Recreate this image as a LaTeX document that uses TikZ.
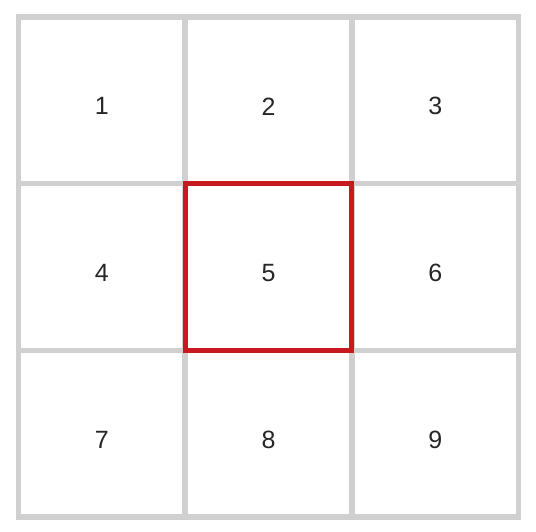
\documentclass[tikz,border=0pt]{standalone}
\usepackage{fontspec}
\setmainfont{Liberation Sans}
\usepackage{tikz}
\usetikzlibrary{positioning}
\definecolor{gridgray}{RGB}{208,208,208}
\definecolor{markred}{RGB}{200,24,32}
\tikzset{
	cell/.style={
		draw=gridgray,
		line width=5.5pt,
		minimum size=166.7pt,
		inner sep=0pt,
		outer sep=0pt
	},
	num/.style={
		font=\fontsize{25}{25}\selectfont,
		text=black!85,
		yshift=-6pt
	},
	mark box/.style={
		draw=markred,
		line width=5pt
	}
}
\begin{document}
\begin{tikzpicture}[x=1pt,y=-1pt]
	\useasboundingbox (0,0) rectangle (536,532);
	\foreach \r in {0,1,2} {
		\foreach \c in {0,1,2} {
			\pgfmathtruncatemacro{\k}{3*\r+\c+1}
			\node [cell] (c\k) at (101.8+166.7*\c,100.3+166.7*\r) {};
			\node [num] (n\k) at (c\k) {\k};
		}
	}
	% current cell
	\draw [mark box] (c5.north west) rectangle (c5.south east);
\end{tikzpicture}
\end{document}
